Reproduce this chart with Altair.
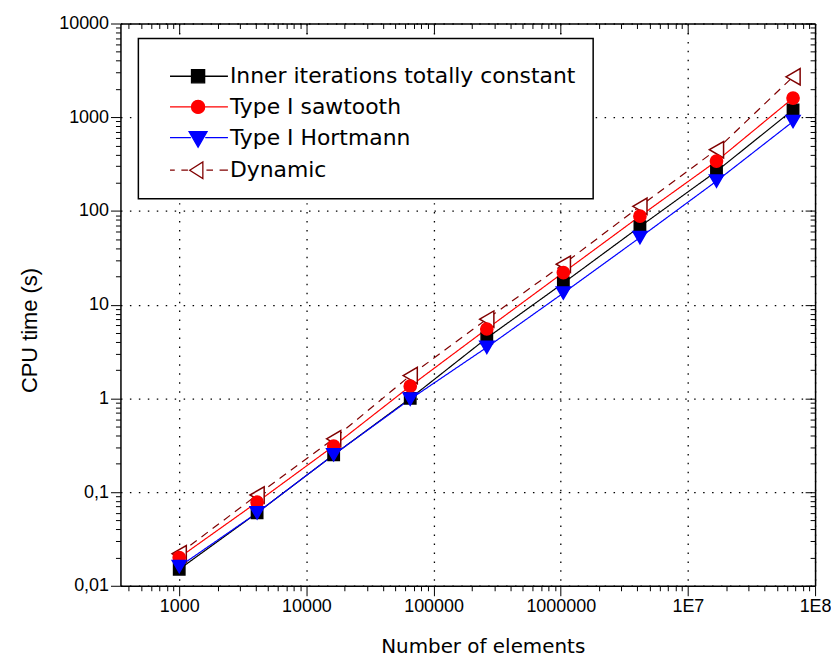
import math
import altair as alt
import pandas as pd

# ---------------- data ----------------
x_values = [1000, 4096, 16384, 65536, 262144, 1048576, 4194304, 16777216, 67108864]
series_names = ["Inner iterations totally constant", "Type I sawtooth",
                "Type I Hortmann", "Dynamic"]
inner_constant = [0.015, 0.060, 0.25, 1.0, 4.4, 17.0, 68.0, 265.0, 1200.0]
sawtooth = [0.020, 0.078, 0.31, 1.35, 5.5, 22.0, 88.0, 340.0, 1600.0]
hortmann = [0.016, 0.060, 0.25, 0.98, 3.5, 13.3, 52.0, 208.0, 900.0]
dynamic = [0.022, 0.093, 0.37, 1.75, 7.0, 27.0, 112.0, 450.0, 2700.0]

x_major = [1000, 10000, 100000, 1000000, 10000000, 100000000]
x_labels = ["1000", "10000", "100000", "1000000", "1E7", "1E8"]
y_major = [0.01, 0.1, 1, 10, 100, 1000, 10000]
y_labels = ["0,01", "0,1", "1", "10", "100", "1000", "10000"]

x_title = "Number of elements"
y_title = "CPU time (s)"

# ---------------- styling ----------------
series_colors = ["#000000", "#FF0000", "#0000FF", "#800000"]
point_fills = ["#000000", "#FF0000", "#0000FF", "white"]
point_shapes = ["square", "circle", "triangle-down", "triangle-left"]
point_sizes = [130, 150, 200, 270]
line_dashes = [[1, 0], [1, 0], [1, 0], [8, 6]]
legend_paths = [
    "M-4.7,0H-1.1M1.1,0H5M-1.1,-1.1H1.1V1.1H-1.1Z",
    "M-4.7,0H-1.1M1.1,0H5M-1.1,0A1.1,1.1,0,1,1,1.1,0A1.1,1.1,0,1,1,-1.1,0Z",
    "M-4.7,0H-1.2M1.2,0H5M-1.5,-1L1.5,-1L0,1.6Z",
    "M-4.7,0H-3.9M-2.8,0H-1.7M-1.4,0L0.8,-1.4V1.4ZM1.4,0H2.5M3.6,0H5",
]
x_domain = [345, 1e8]
y_domain = [0.01, 10000]
W, H = 698, 565

values_by_series = [inner_constant, sawtooth, hortmann, dynamic]
draw_order = [3, 0, 1, 2]
rows = []
for rank, i in enumerate(draw_order):
    for xv, yv in zip(x_values, values_by_series[i]):
        rows.append({"n": xv, "t": yv, "series": series_names[i], "z": rank})
df = pd.DataFrame(rows)


def log_ticks(lo, hi):
    out = []
    for e in range(math.floor(math.log10(lo)), math.ceil(math.log10(hi)) + 1):
        for k in range(1, 10):
            v = round(k * 10.0 ** e, 12)
            if lo * (1 - 1e-9) <= v <= hi * (1 + 1e-9):
                out.append(v)
    return out


def label_expr(vals, labs):
    parts = [f"abs(datum.value - {float(v)!r}) < {float(v) * 1e-6!r} ? '{l}'"
             for v, l in zip(vals, labs)]
    return " : ".join(parts) + " : ''"


major_test = ("abs(log(datum.value)/LN10 - round(log(datum.value)/LN10)) < 0.000001")


def cond(major, minor):
    return {"condition": {"test": major_test, "value": major}, "value": minor}


x_ticks = log_ticks(*x_domain)
y_ticks = log_ticks(*y_domain)

xscale = alt.Scale(type="log", domain=x_domain, nice=False)
yscale = alt.Scale(type="log", domain=y_domain, nice=False)

common_axis = dict(
    tickColor="black", tickWidth=1, domainColor="black", domainWidth=1.5,
)

x_axis_main = alt.Axis(
    values=x_ticks, labelExpr=label_expr(x_major, x_labels), orient="bottom",
    title=x_title, grid=True, gridColor="black", gridWidth=1.3, gridDash=[1.5, 7.5],
    gridOpacity=cond(1, 0), tickSize=cond(10, 5),
    labelFont="Liberation Sans", labelFontSize=18, labelColor="black",
    labelPadding=2, labelOverlap=False, labelFlush=False,
    titleFont="DejaVu Sans", titleFontSize=20, titleFontWeight="normal",
    titleColor="black", titleX=364, titleY=61, titleBaseline="middle",
    **common_axis,
)
y_axis_main = alt.Axis(
    values=y_ticks, labelExpr=label_expr(y_major, y_labels), orient="left",
    title=y_title, grid=True, gridColor="black", gridWidth=1.3, gridDash=[1.5, 7.5],
    gridOpacity=cond(1, 0), tickSize=cond(10, 5),
    labelFont="Liberation Sans", labelFontSize=18, labelColor="black",
    labelPadding=2, labelOverlap=False, labelFlush=False,
    titleFont="Liberation Sans", titleFontSize=22, titleFontWeight="normal",
    titleColor="black", titleAngle=270, titleX=-91, titleY=308,
    titleBaseline="middle",
    **common_axis,
)
x_axis_mirror = alt.Axis(
    values=x_ticks, labels=False, title=None, orient="bottom", offset=-H,
    grid=False, tickSize=cond(10, 5), **common_axis,
)
y_axis_mirror = alt.Axis(
    values=y_ticks, labels=False, title=None, orient="left", offset=-W,
    grid=False, tickSize=cond(10, 5), **common_axis,
)

lines = alt.Chart(df).mark_line(strokeWidth=1.2, clip=True).encode(
    x=alt.X("n:Q", scale=xscale, axis=x_axis_main),
    y=alt.Y("t:Q", scale=yscale, axis=y_axis_main),
    color=alt.Color("series:N", scale=alt.Scale(domain=series_names, range=series_colors),
                    legend=None),
    strokeDash=alt.StrokeDash("series:N",
                              scale=alt.Scale(domain=series_names, range=line_dashes),
                              legend=None),
)

points = alt.Chart(df).mark_point(opacity=1, strokeWidth=1.5).encode(
    x=alt.X("n:Q", scale=xscale, axis=x_axis_mirror),
    y=alt.Y("t:Q", scale=yscale, axis=y_axis_mirror),
    shape=alt.Shape("series:N", scale=alt.Scale(domain=series_names, range=point_shapes),
                    legend=None),
    fill=alt.Fill("series:N", scale=alt.Scale(domain=series_names, range=point_fills),
                  legend=None),
    stroke=alt.Stroke("series:N", scale=alt.Scale(domain=series_names, range=series_colors),
                      legend=None),
    size=alt.Size("series:N", scale=alt.Scale(type="ordinal", domain=series_names,
                                              range=point_sizes), legend=None),
    order=alt.Order("z:Q"),
)

legend_spec = alt.Legend(
    orient="none", legendX=18, legendY=15, title=" ", titleFontSize=6, titlePadding=4,
    padding=17, fillColor="white", strokeColor="black", symbolSize=144,
    symbolStrokeWidth=1.3, symbolOffset=32, labelOffset=21,
    labelFont="DejaVu Sans", labelFontSize=22, labelColor="black", labelLimit=800,
    rowPadding=8.8,
)
legend_layer = alt.Chart(pd.DataFrame({"series": series_names})).transform_filter(
    "false").mark_point(opacity=1, filled=True).encode(
    shape=alt.Shape("series:N", scale=alt.Scale(domain=series_names, range=legend_paths),
                    legend=legend_spec),
    fill=alt.Fill("series:N", scale=alt.Scale(domain=series_names, range=point_fills),
                  legend=legend_spec),
    stroke=alt.Stroke("series:N", scale=alt.Scale(domain=series_names, range=series_colors),
                      legend=legend_spec),
)

chart = alt.layer(lines, points, legend_layer).resolve_scale(
    shape="independent", fill="independent", stroke="independent",
).resolve_axis(x="independent", y="independent").properties(
    width=W, height=H,
    autosize=alt.AutoSizeParams(type="none"),
    padding={"left": 113, "top": 14, "right": 16, "bottom": 71},
    background="white",
).configure_view(stroke=None).configure_legend(strokeWidth=1.5)

chart.save("out.html", embed_options={"renderer": "svg", "actions": False})
